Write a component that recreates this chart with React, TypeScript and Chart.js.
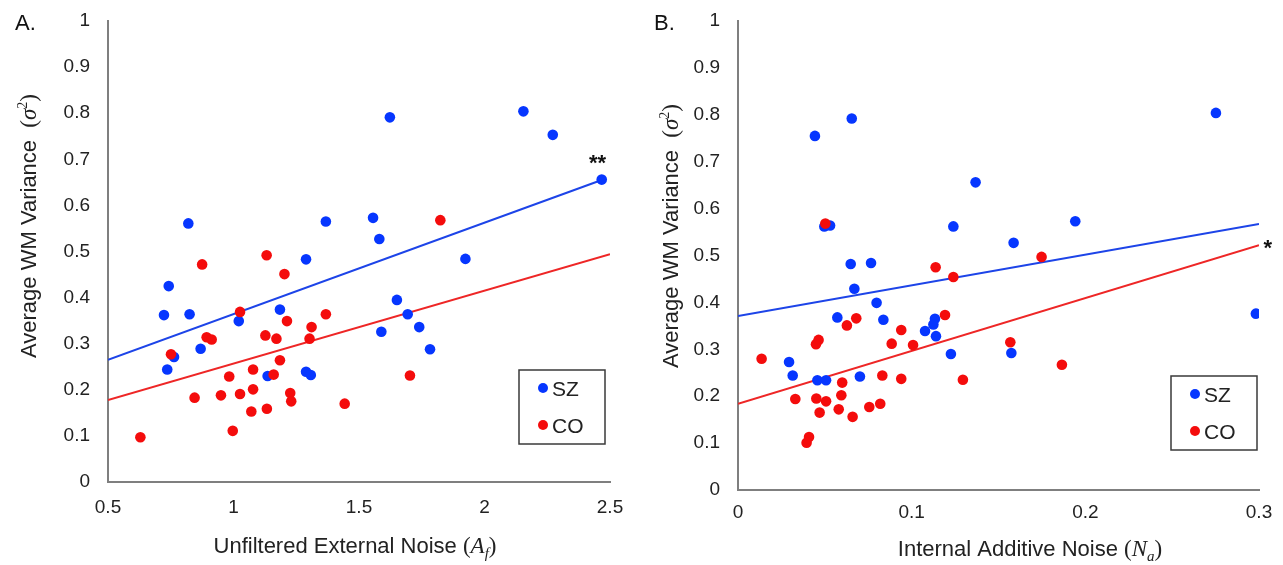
import React, { useEffect, useRef } from "react";
import { Chart, registerables } from "chart.js";

Chart.register(...registerables);

// ---------- Panel A: Unfiltered External Noise (A_f) ----------
const SZ_A_X = [0.82, 1.368, 1.289, 1.623, 2.155, 2.272, 2.467, 1.556, 1.581, 1.924, 0.742, 0.723, 0.825, 1.021, 1.185, 0.869, 0.763, 0.736, 1.136, 1.289, 1.308, 1.651, 1.694, 1.589, 1.74, 1.783];
const SZ_A_Y = [0.561, 0.565, 0.483, 0.791, 0.804, 0.753, 0.656, 0.573, 0.527, 0.484, 0.425, 0.362, 0.364, 0.349, 0.374, 0.289, 0.271, 0.244, 0.23, 0.239, 0.232, 0.395, 0.364, 0.326, 0.336, 0.288];
const CO_A_X = [1.132, 1.824, 0.875, 1.203, 1.026, 1.368, 1.213, 1.311, 1.127, 1.171, 1.303, 0.893, 0.913, 0.751, 1.185, 1.078, 0.983, 1.16, 1.078, 0.845, 0.95, 1.026, 1.226, 1.23, 1.443, 1.071, 1.133, 0.997, 0.629, 1.703];
const CO_A_Y = [0.492, 0.568, 0.472, 0.451, 0.369, 0.364, 0.349, 0.336, 0.318, 0.311, 0.311, 0.314, 0.309, 0.277, 0.264, 0.244, 0.229, 0.233, 0.201, 0.183, 0.188, 0.191, 0.193, 0.175, 0.17, 0.153, 0.159, 0.111, 0.097, 0.231];
const FIT_SZ_A_X = [0.5, 2.467];
const FIT_SZ_A_Y = [0.265, 0.655];
const FIT_CO_A_X = [0.5, 2.5];
const FIT_CO_A_Y = [0.178, 0.494];
const A_X_TICKS = [0.5, 1, 1.5, 2, 2.5];

// ---------- Panel B: Internal Additive Noise (N_a) ----------
const SZ_B_X = [0.0443, 0.0655, 0.1368, 0.0497, 0.053, 0.124, 0.2752, 0.1942, 0.1587, 0.0649, 0.0766, 0.067, 0.0798, 0.0572, 0.0837, 0.1134, 0.1125, 0.1077, 0.114, 0.1226, 0.0294, 0.0315, 0.0702, 0.0457, 0.0507, 0.2982, 0.1574];
const SZ_B_Y = [0.755, 0.792, 0.656, 0.562, 0.564, 0.562, 0.804, 0.573, 0.527, 0.482, 0.484, 0.429, 0.399, 0.368, 0.363, 0.365, 0.353, 0.339, 0.328, 0.29, 0.273, 0.244, 0.242, 0.234, 0.234, 0.376, 0.292];
const CO_B_X = [0.0503, 0.1748, 0.1138, 0.124, 0.0681, 0.0627, 0.1192, 0.094, 0.0464, 0.0449, 0.0885, 0.1008, 0.0136, 0.0831, 0.094, 0.1295, 0.06, 0.0595, 0.033, 0.0451, 0.0507, 0.047, 0.058, 0.066, 0.0756, 0.0819, 0.0409, 0.0395, 0.1568, 0.1865];
const CO_B_Y = [0.568, 0.497, 0.475, 0.454, 0.366, 0.351, 0.373, 0.341, 0.32, 0.311, 0.312, 0.309, 0.28, 0.244, 0.237, 0.235, 0.229, 0.202, 0.194, 0.195, 0.189, 0.165, 0.172, 0.156, 0.177, 0.184, 0.113, 0.101, 0.315, 0.267];
const FIT_SZ_B_X = [0, 0.3];
const FIT_SZ_B_Y = [0.371, 0.567];
const FIT_CO_B_X = [0, 0.3];
const FIT_CO_B_Y = [0.184, 0.522];
const B_X_TICKS = [0, 0.1, 0.2, 0.3];

const Y_TICKS = [0, 0.1, 0.2, 0.3, 0.4, 0.5, 0.6, 0.7, 0.8, 0.9, 1];
const SERIES_LABELS = ["SZ", "CO"];

const SANS = '"Liberation Sans", Arial, Helvetica, sans-serif';
const SERIF = '"Liberation Serif", "DejaVu Serif", serif';
const TEXT = "#222222";
const BLUE = "#0636ff";
const RED = "#f40c0c";
const BLUE_LINE = "#1d44e8";
const RED_LINE = "#ee2626";
const AXIS = "#7f7f7f";

type Part = { t: string; font: string; dy?: number };

const pts = (xs: number[], ys: number[]) => xs.map((x, i) => ({ x, y: ys[i] }));

function drawParts(ctx: CanvasRenderingContext2D, parts: Part[], cx: number, cy: number, angle: number) {
  ctx.save();
  ctx.translate(cx, cy);
  ctx.rotate(angle);
  ctx.textAlign = "left";
  ctx.textBaseline = "alphabetic";
  let w = 0;
  for (const p of parts) {
    ctx.font = p.font;
    w += ctx.measureText(p.t).width;
  }
  let x = -w / 2;
  for (const p of parts) {
    ctx.font = p.font;
    ctx.fillText(p.t, x, 8 + (p.dy || 0));
    x += ctx.measureText(p.t).width;
  }
  ctx.restore();
}

type PanelCfg = {
  panel: string;
  panelX: number;
  yTitle: Part[];
  yTitleX: number;
  yTitleY: number;
  xTitle: Part[];
  xTitleX: number;
  xTitleY: number;
  star: string;
  starAt: [number, number];
  legendRight: number;
  legendBottom: number;
};

function makeDecor(cfg: PanelCfg) {
  return {
    id: "decor",
    afterDraw(chart: any) {
      const ctx: CanvasRenderingContext2D = chart.ctx;
      const { x, y } = chart.scales;
      const area = chart.chartArea;
      ctx.save();
      ctx.fillStyle = "#111111";
      // panel letter
      ctx.font = `22px ${SANS}`;
      ctx.textAlign = "left";
      ctx.textBaseline = "alphabetic";
      ctx.fillText(cfg.panel, cfg.panelX, 30);
      // axis titles
      ctx.fillStyle = TEXT;
      drawParts(ctx, cfg.yTitle, cfg.yTitleX, cfg.yTitleY, -Math.PI / 2);
      drawParts(ctx, cfg.xTitle, cfg.xTitleX, cfg.xTitleY, 0);
      // significance stars
      ctx.fillStyle = "#111";
      ctx.font = `bold 22px ${SANS}`;
      ctx.textAlign = "center";
      ctx.textBaseline = "alphabetic";
      ctx.fillText(cfg.star, x.getPixelForValue(cfg.starAt[0]), y.getPixelForValue(cfg.starAt[1]) + 12);
      // legend box
      const bw = 86;
      const bh = 74;
      const right = area.right - cfg.legendRight;
      const bottom = area.bottom - cfg.legendBottom;
      const left = right - bw;
      const top = bottom - bh;
      ctx.fillStyle = "#ffffff";
      ctx.fillRect(left, top, bw, bh);
      ctx.strokeStyle = "#3a3a3a";
      ctx.lineWidth = 1.5;
      ctx.strokeRect(left, top, bw, bh);
      const series = chart.data.datasets.filter((d: any) => d.type !== "line");
      series.forEach((d: any, i: number) => {
        const cy = top + 18 + i * 37;
        ctx.fillStyle = d.backgroundColor;
        ctx.beginPath();
        ctx.arc(left + 24, cy, 5, 0, Math.PI * 2);
        ctx.fill();
        ctx.fillStyle = TEXT;
        ctx.font = `21px ${SANS}`;
        ctx.textAlign = "left";
        ctx.textBaseline = "alphabetic";
        ctx.fillText(d.label, left + 33, cy + 7.5);
      });
      ctx.restore();
    },
  };
}

function buildConfig(
  sz: { x: number; y: number }[],
  co: { x: number; y: number }[],
  fitSz: { x: number; y: number }[],
  fitCo: { x: number; y: number }[],
  xTicks: number[],
  xMin: number,
  xMax: number,
  yAxisWidth: number,
  xAxisHeight: number,
  padRight: number,
  padTop: number,
  xTickPad: number,
  cfg: PanelCfg
): any {
  return {
    type: "scatter",
    data: {
      datasets: [
        { label: SERIES_LABELS[0], data: sz, backgroundColor: BLUE, borderWidth: 0, pointRadius: 5.3, order: 1 },
        { label: SERIES_LABELS[1], data: co, backgroundColor: RED, borderWidth: 0, pointRadius: 5.3, order: 0 },
        { type: "line", label: "SZ fit", data: fitSz, borderColor: BLUE_LINE, borderWidth: 2, pointRadius: 0, fill: false, order: 2 },
        { type: "line", label: "CO fit", data: fitCo, borderColor: RED_LINE, borderWidth: 2, pointRadius: 0, fill: false, order: 2 },
      ],
    },
    options: {
      responsive: false,
      animation: false,
      events: [],
      layout: { padding: { left: 0, right: padRight, top: padTop, bottom: 0 } },
      plugins: { legend: { display: false }, tooltip: { enabled: false } },
      scales: {
        x: {
          type: "linear",
          min: xMin,
          max: xMax,
          grid: { display: false, drawTicks: false },
          border: { display: true, color: AXIS, width: 2 },
          afterBuildTicks: (s: any) => {
            s.ticks = xTicks.map((v) => ({ value: v }));
          },
          afterFit: (s: any) => {
            s.height = xAxisHeight;
            s.paddingLeft = 0;
            s.paddingRight = 0;
          },
          ticks: {
            padding: xTickPad,
            color: TEXT,
            font: { family: SANS, size: 19 },
            maxRotation: 0,
            callback: (v: number) => String(+Number(v).toFixed(2)),
          },
        },
        y: {
          type: "linear",
          min: 0,
          max: 1,
          grid: { display: false, drawTicks: false },
          border: { display: true, color: AXIS, width: 2 },
          afterBuildTicks: (s: any) => {
            s.ticks = Y_TICKS.map((v) => ({ value: v }));
          },
          afterFit: (s: any) => {
            s.width = yAxisWidth;
            s.paddingTop = 0;
            s.paddingBottom = 0;
          },
          ticks: {
            padding: 18,
            color: TEXT,
            font: { family: SANS, size: 19 },
            callback: (v: number) => String(+Number(v).toFixed(2)),
          },
        },
      },
    },
    plugins: [makeDecor(cfg)],
  };
}

const yTitleParts: Part[] = [
  { t: "Average WM Variance  ", font: `22px ${SANS}` },
  { t: "(", font: `23px ${SERIF}` },
  { t: "σ", font: `italic 23px ${SERIF}` },
  { t: "2", font: `14px ${SERIF}`, dy: -9 },
  { t: ")", font: `23px ${SERIF}` },
];

export default function App() {
  const refA = useRef<HTMLCanvasElement | null>(null);
  const refB = useRef<HTMLCanvasElement | null>(null);

  useEffect(() => {
    const cfgA: PanelCfg = {
      panel: "A.",
      panelX: 15,
      yTitle: yTitleParts,
      yTitleX: 28,
      yTitleY: 226,
      xTitle: [
        { t: "Unfiltered External Noise ", font: `22px ${SANS}` },
        { t: "(", font: `23px ${SERIF}` },
        { t: "A", font: `italic 23px ${SERIF}` },
        { t: "f", font: `italic 15px ${SERIF}`, dy: 5 },
        { t: ")", font: `23px ${SERIF}` },
      ],
      xTitleX: 355,
      xTitleY: 545,
      star: "**",
      starAt: [2.45, 0.703],
      legendRight: 5,
      legendBottom: 38,
    };
    const cfgB: PanelCfg = {
      panel: "B.",
      panelX: 13,
      yTitle: yTitleParts,
      yTitleX: 29,
      yTitleY: 236,
      xTitle: [
        { t: "Internal Additive Noise ", font: `22px ${SANS}` },
        { t: "(", font: `23px ${SERIF}` },
        { t: "N", font: `italic 23px ${SERIF}` },
        { t: "a", font: `italic 15px ${SERIF}`, dy: 5 },
        { t: ")", font: `23px ${SERIF}` },
      ],
      xTitleX: 389,
      xTitleY: 548,
      star: "*",
      starAt: [0.3051, 0.527],
      legendRight: 2,
      legendBottom: 40,
    };

    const chartA = new Chart(
      refA.current as HTMLCanvasElement,
      buildConfig(
        pts(SZ_A_X, SZ_A_Y),
        pts(CO_A_X, CO_A_Y),
        pts(FIT_SZ_A_X, FIT_SZ_A_Y),
        pts(FIT_CO_A_X, FIT_CO_A_Y),
        A_X_TICKS,
        0.5,
        2.5,
        108,
        83,
        31,
        21,
        14,
        cfgA
      )
    );
    const chartB = new Chart(
      refB.current as HTMLCanvasElement,
      buildConfig(
        pts(SZ_B_X, SZ_B_Y),
        pts(CO_B_X, CO_B_Y),
        pts(FIT_SZ_B_X, FIT_SZ_B_Y),
        pts(FIT_CO_B_X, FIT_CO_B_Y),
        B_X_TICKS,
        0,
        0.3,
        97,
        75,
        24,
        21,
        11,
        cfgB
      )
    );
    return () => {
      chartA.destroy();
      chartB.destroy();
    };
  }, []);

  return (
    <div style={{ position: "fixed", left: 0, top: 0, width: 1283, height: 565, background: "#ffffff" }}>
      <canvas ref={refA} width={641} height={565} style={{ position: "absolute", left: 0, top: 0, width: 641, height: 565 }} />
      <canvas ref={refB} width={642} height={565} style={{ position: "absolute", left: 641, top: 0, width: 642, height: 565 }} />
    </div>
  );
}
